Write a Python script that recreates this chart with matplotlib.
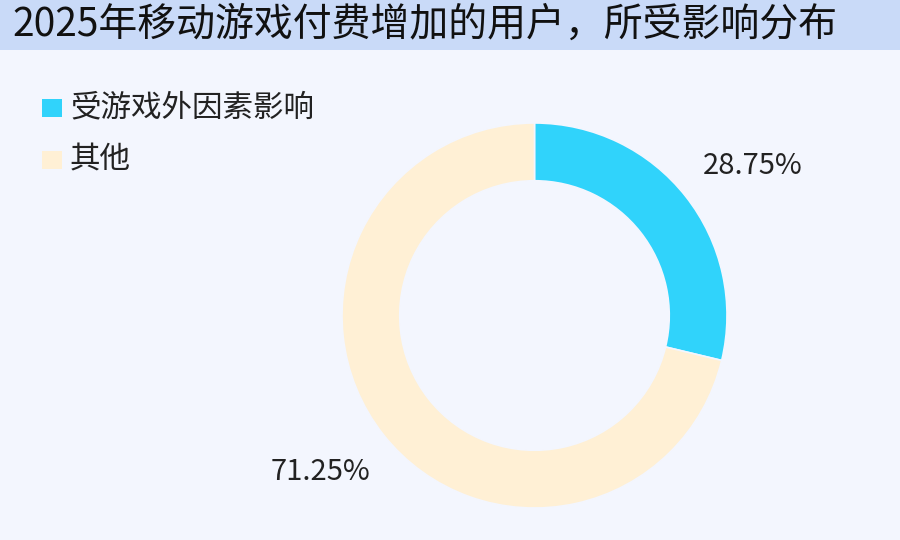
import matplotlib
matplotlib.use("Agg")
import matplotlib.pyplot as plt
from matplotlib.patches import Rectangle

plt.rcParams['font.family'] = ['Noto Sans CJK SC', 'DejaVu Sans']

title = "2025年移动游戏付费增加的用户，所受影响分布"
labels = ["受游戏外因素影响", "其他"]
values = [28.75, 71.25]
colors = ["#30D3FB", "#FFF0D5"]

bg = "#F3F6FE"
bar = "#C9DAF8"

W, H = 900, 540
fig = plt.figure(figsize=(9, 5.4), dpi=100, facecolor=bg)

# title bar
fig.patches.append(Rectangle((0, 1 - 50 / H), 1, 50 / H, transform=fig.transFigure,
                             facecolor=bar, edgecolor="none", zorder=0))
fig.text(12 / W, 1 - 25 / H, title, fontsize=28, va="center", ha="left",
         color="#111111", fontweight="medium")

# donut: centre (534.5, 315.5) px, radius 192.5 px
cx, cy, r = 534.5, 315.5, 192.5
ax = fig.add_axes([(cx - r) / W, (H - cy - r) / H, 2 * r / W, 2 * r / H])
ax.set_facecolor(bg)
wedges, texts, autotexts = ax.pie(values, colors=colors, startangle=90, counterclock=False,
                                  radius=1, autopct=lambda p: f"{p:.2f}%", pctdistance=1.38,
                                  wedgeprops=dict(width=0.30, edgecolor=bg, linewidth=1.2))
# labels sit a bit more to the side than the plain mid-angle position
nudge = [(0.05, -0.08), (-0.03, 0.04)]
for t, (dx, dy) in zip(autotexts, nudge):
    x, y = t.get_position()
    t.set_position((x + dx, y + dy))
    t.set_fontsize(21)
    t.set_color("#222222")
ax.set_xlim(-1, 1)
ax.set_ylim(-1, 1)
ax.set_aspect("equal")
ax.axis("off")

# legend
for i, (lab, col) in enumerate(zip(labels, colors)):
    yc = 108 + i * 52
    fig.patches.append(Rectangle((42 / W, 1 - (yc + 9) / H), 20 / W, 18 / H,
                                 transform=fig.transFigure, facecolor=col, edgecolor="none"))
    fig.text(70 / W, 1 - yc / H, lab, fontsize=22, va="center", ha="left", color="#222222")

fig.savefig("out.png", dpi=100, facecolor=bg)
